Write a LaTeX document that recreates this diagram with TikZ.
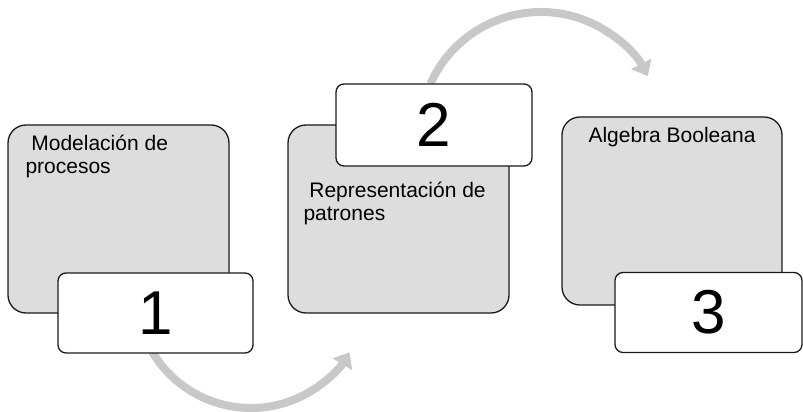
\documentclass[tikz,border=0pt]{standalone}
\usepackage{fontspec}
\setmainfont{Liberation Sans}
\usetikzlibrary{arrows.meta,positioning}
\definecolor{flechagris}{RGB}{200,200,200}
\definecolor{cajagris}{RGB}{221,221,221}
\definecolor{borde}{RGB}{26,26,26}
\tikzset{
  caja/.style={draw=borde,line width=1.3pt,fill=cajagris,rounded corners=18pt,
    minimum width=221pt,minimum height=188pt,inner sep=0pt},
  numero/.style={draw=borde,line width=1.3pt,fill=white,rounded corners=8pt,
    minimum height=80pt,inner sep=0pt,font=\fontsize{62}{62}\selectfont},
  texto/.style={align=left,inner sep=0pt,font=\fontsize{21}{23.5}\selectfont},
  flecha/.style={flechagris,line width=8pt,-{Triangle[width=22pt,length=14pt]}}
}
\begin{document}
\begin{tikzpicture}[x=1pt,y=1pt]
  \useasboundingbox (0,0) rectangle (803,412);
  % flechas curvas (detras de las cajas)
  \coordinate (c1) at (251,119);
  \coordinate (c2) at (541,279);
  \draw[flecha] (c1) ++(211:115) arc[start angle=211,end angle=329,radius=115];
  \draw[flecha] (c2) ++(156:121) arc[start angle=156,end angle=28,radius=121];
  % cajas grandes
  \node[caja] (caja1) at (118.5,193) {};
  \node[caja] (caja2) at (398.5,193) {};
  \node[caja,minimum width=220pt] (caja3) at (672,201) {};
  \node[texto,below right=10pt and 18pt of caja1.north west] (txt1) {\ Modelación de\\procesos};
  \node[texto,below right=57pt and 16pt of caja2.north west] (txt2) {\ Representación de\\patrones};
  \node[texto,below=11pt of caja3.north] (txt3) {Algebra Booleana};
  % numeros
  \node[numero,minimum width=195pt] (num1) at (155.5,99) {1};
  \node[numero,minimum width=196pt,minimum height=82pt] (num2) at (434,287) {2};
  \node[numero,minimum width=187pt] (num3) at (708.5,99.5) {3};
\end{tikzpicture}
\end{document}
